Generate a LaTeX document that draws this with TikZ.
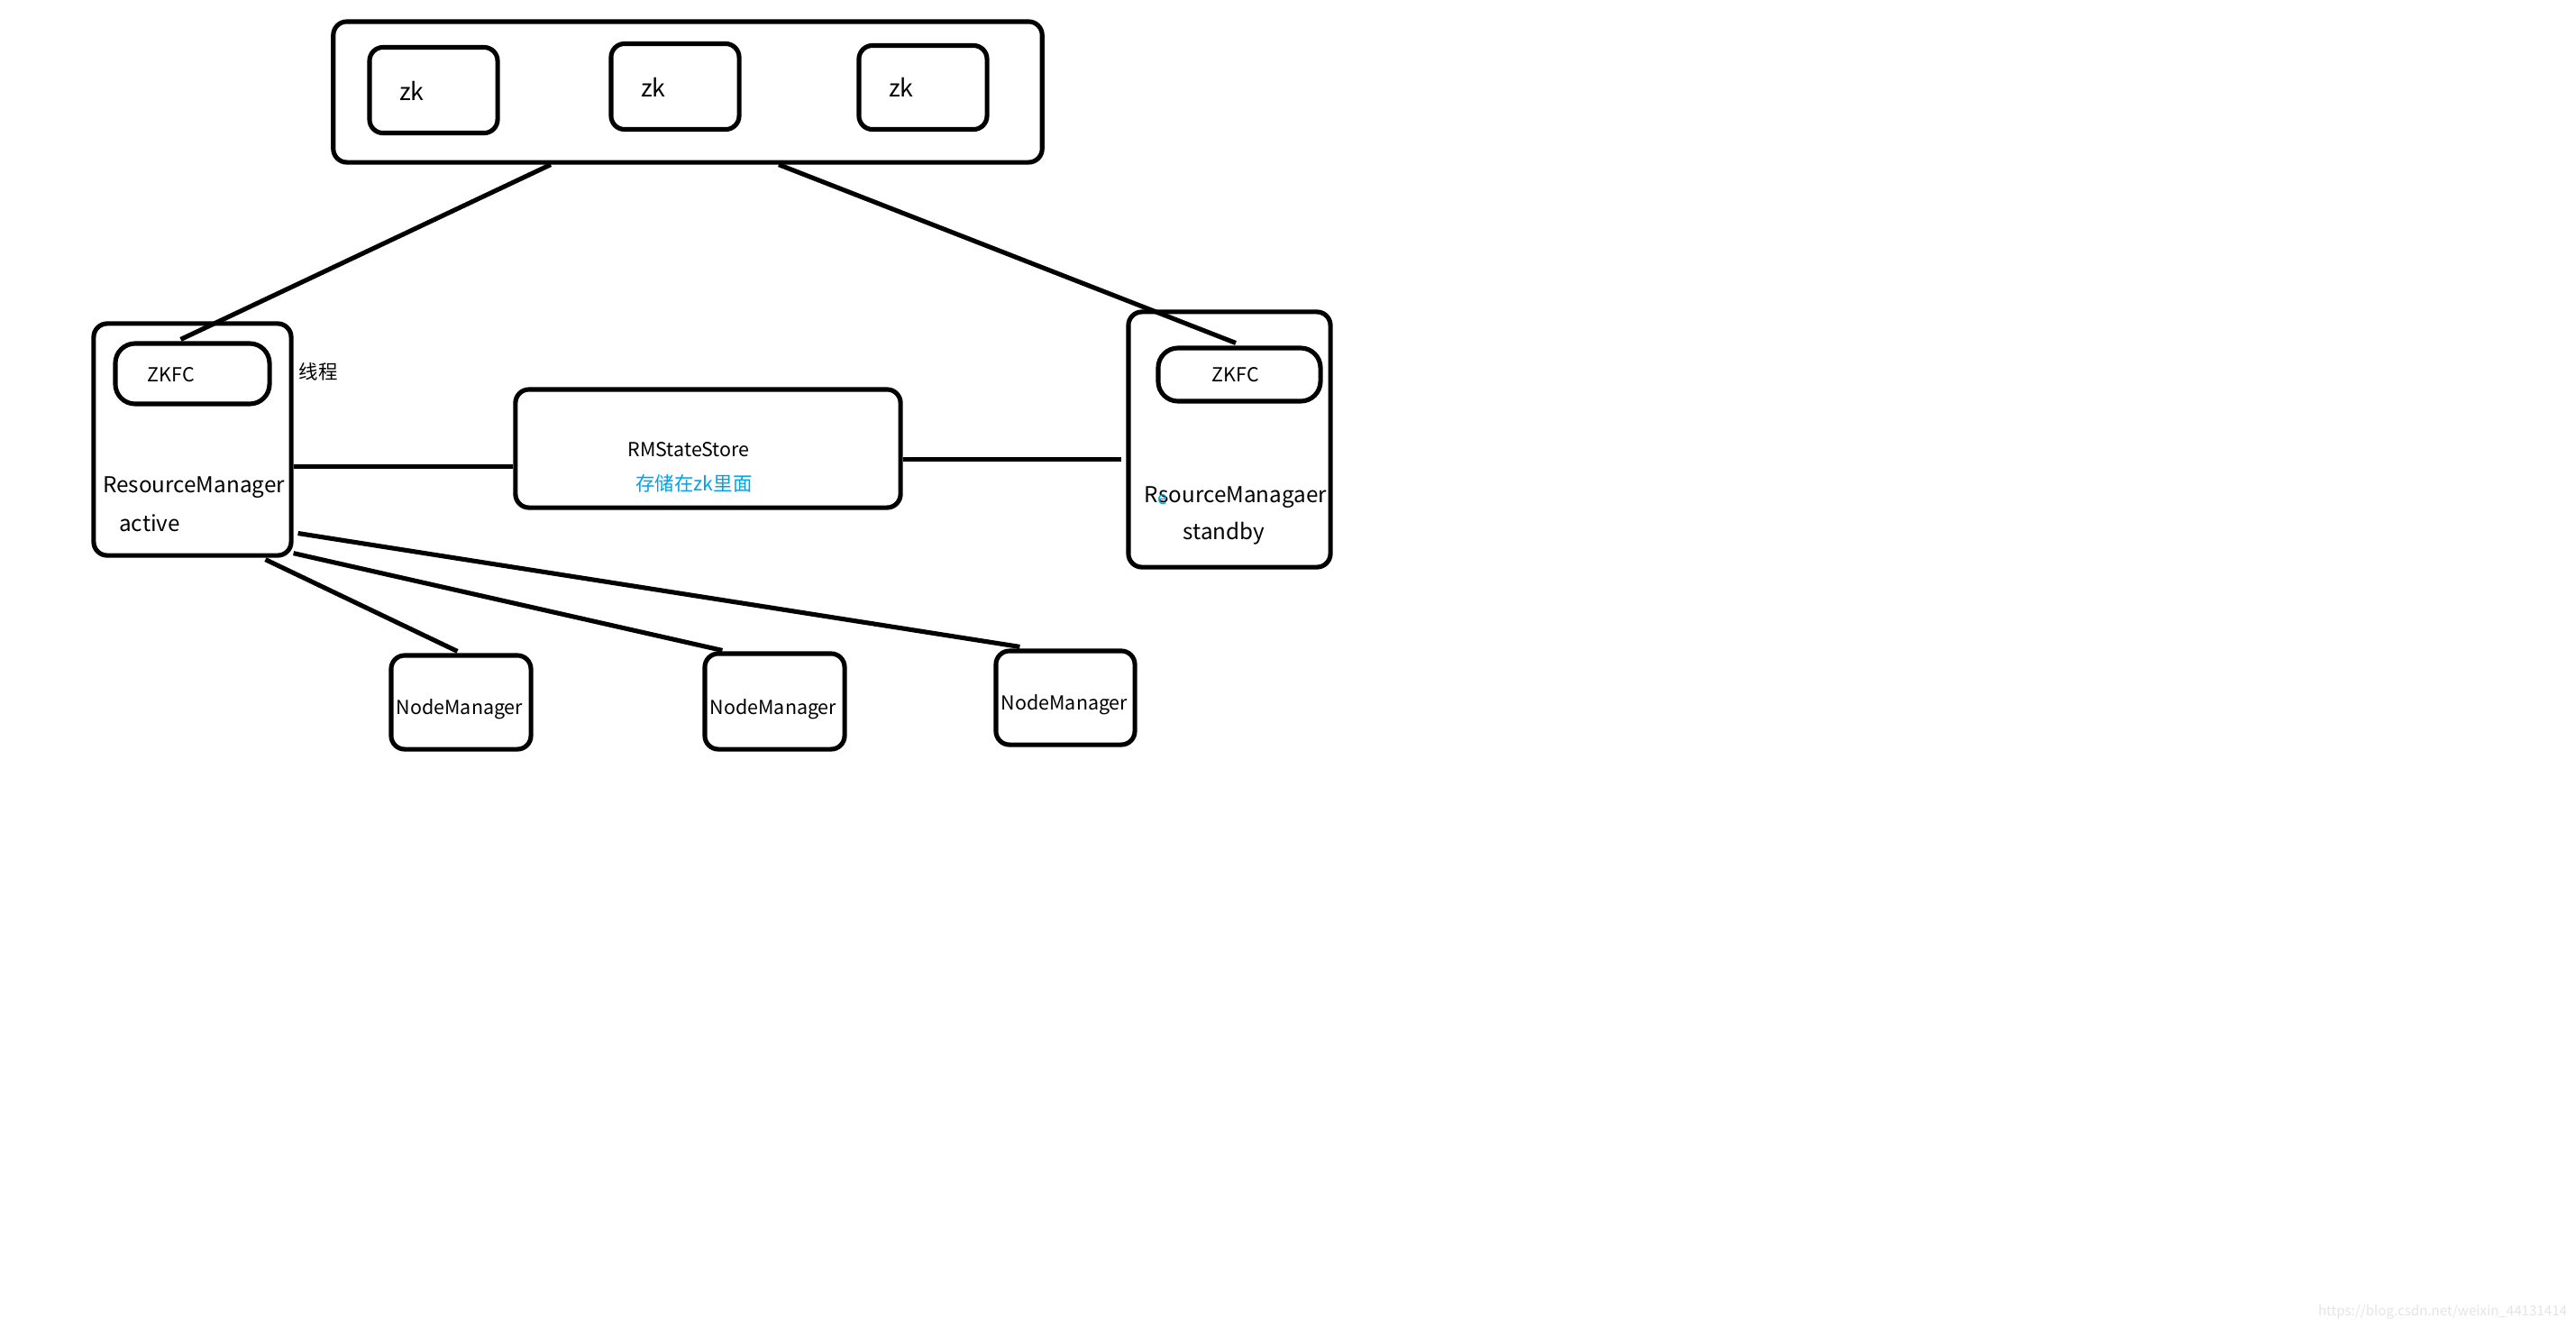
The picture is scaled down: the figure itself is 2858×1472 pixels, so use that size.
\documentclass[tikz,border=0pt]{standalone}
\usepackage{fontspec}
\setmainfont{Noto Sans CJK SC}
\usetikzlibrary{calc}
\definecolor{zkblue}{RGB}{0,162,232}
\definecolor{wmgray}{RGB}{228,228,228}

\begin{document}
\begin{tikzpicture}[x=0.01cm,y=-0.01cm,
    box/.style={draw,line width=1.45pt,rounded corners=0.15cm,inner sep=0pt},
    pill/.style={box,rounded corners=0.22cm},
    link/.style={line width=1.45pt},
    lbl/.style={inner sep=0pt,font=\fontsize{6.9}{8}\selectfont},
    small/.style={inner sep=0pt,font=\fontsize{6.1}{7}\selectfont}]
    \useasboundingbox (0,0) rectangle (2858,1472);
    % zookeeper
    \node[box,minimum width=7.86cm,minimum height=1.56cm] (zks) at (763,102) {};
    \node[box,minimum width=1.42cm,minimum height=0.95cm] (zk1) at (481,100) {};
    \node[box,minimum width=1.42cm,minimum height=0.95cm] (zk2) at (749,96) {};
    \node[box,minimum width=1.42cm,minimum height=0.93cm] (zk3) at (1024,97) {};
    \node[lbl,font=\fontsize{7.6}{9}\selectfont] (zkt1) at (457,101) {zk};
    \node[lbl,font=\fontsize{7.6}{9}\selectfont] (zkt2) at (725,97) {zk};
    \node[lbl,font=\fontsize{7.6}{9}\selectfont] (zkt3) at (1000,97) {zk};
    % active resource manager
    \node[box,minimum width=2.19cm,minimum height=2.57cm] (rmA) at (213.5,487.5) {};
    \node[pill,minimum width=1.71cm,minimum height=0.67cm] (zkfcA) at (213.5,414.5) {};
    \node[small] (zkfcAt) at (190,416) {ZKFC};
    \node[small] (thread) at (353,412) {线程};
    \node[lbl] (rmAt) at (215,541) {ResourceManager};
    \node[lbl] (rmAs) at (166,580) {active};
    % state store
    \node[box,minimum width=4.27cm,minimum height=1.31cm] (store) at (785.5,497.5) {};
    \node[small] (storet) at (764,499) {RMStateStore};
    \node[small,text=zkblue] (storez) at (770,536) {存储在zk里面};
    % standby resource manager
    \node[box,minimum width=2.24cm,minimum height=2.83cm] (rmB) at (1364,487.5) {};
    \node[pill,minimum width=1.80cm,minimum height=0.59cm] (zkfcB) at (1375,415.5) {};
    \node[small] (zkfcBt) at (1371,416) {ZKFC};
    \node[lbl] (rmBt) at (1371,552) {RsourceManagaer};
    \node[inner sep=0pt,font=\fontsize{5.6}{6}\selectfont,text=zkblue] (rmBe) at (1290,554) {e};
    \node[lbl] (rmBs) at (1358,592) {standby};
    % node managers
    \node[box,minimum width=1.55cm,minimum height=1.04cm] (nm1) at (511.5,779) {};
    \node[box,minimum width=1.55cm,minimum height=1.06cm] (nm2) at (859.5,778) {};
    \node[box,minimum width=1.54cm,minimum height=1.04cm] (nm3) at (1182,774) {};
    \node[small] (nmt1) at (510,787) {NodeManager};
    \node[small] (nmt2) at (858,787) {NodeManager};
    \node[small] (nmt3) at (1181,782) {NodeManager};
    % links
    \draw[link] ($(zks.south)+(-152,0)$) -- ($(zkfcA.north)+(-13,-2)$);
    \draw[link] ($(zks.south)+(101,0)$) -- ($(zkfcB.north)+(-4,-3)$);
    \draw[link] ($(rmA.east)+(0,30)$) -- ($(store.west)+(0,20)$);
    \draw[link] ($(store.east)+(0,12)$) -- ($(rmB.west)+(-5,22)$);
    \draw[link] ($(rmA.south)+(81,2)$) -- ($(nm1.north)+(-4,-2)$);
    \draw[link] ($(rmA.south east)+(0,-5)$) -- ($(nm2.north west)+(22,-1)$);
    \draw[link] ($(rmA.east)+(5,104)$) -- ($(nm3.north west)+(29,-2)$);
    % watermark
    \node[inner sep=0pt,font=\fontsize{4.3}{5}\selectfont,text=wmgray] (wm) at (2710,1455) {https://blog.csdn.net/weixin\_44131414};
\end{tikzpicture}
\end{document}
